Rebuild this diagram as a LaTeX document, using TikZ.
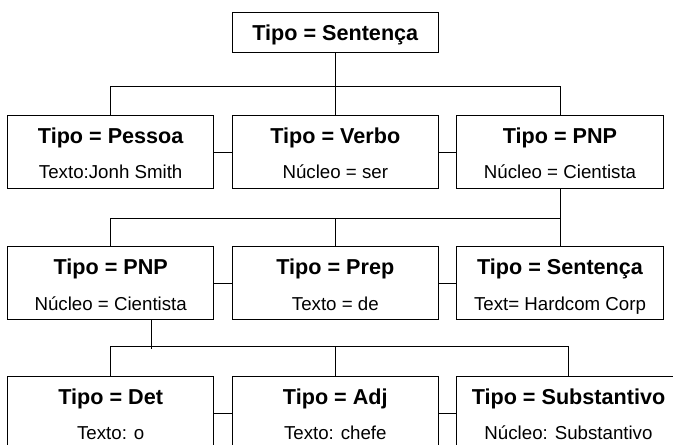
\documentclass[tikz,border=0pt]{standalone}
\usepackage{fontspec}
\setmainfont{Liberation Sans}
\usetikzlibrary{calc}
\begin{document}
\begin{tikzpicture}[x=1pt,y=-1pt,
 box/.style={draw, line width=1pt, minimum width=206.5pt, minimum height=73.5pt, inner sep=0pt},
 topbox/.style={box, minimum height=39.6pt},
 widebox/.style={box, minimum width=223.6pt},
 ttl/.style={anchor=base, inner sep=0pt, font=\fontsize{21.6}{24}\selectfont\bfseries},
 sub/.style={anchor=base, inner sep=0pt, font=\fontsize{18.7}{22}\selectfont},
 link/.style={line width=1pt}]
\useasboundingbox (0,0) rectangle (673,445);

% top
\node[topbox] (s) at (335.3,32.5) {};
\node[ttl] (st) at ($(s.center)+(0,7.8)$) {Tipo = Sentença};

% row 1
\node[box] (p1) at (110.7,152) {};
\node[box] (p2) at (335.3,152) {};
\node[box] (p3) at (560,152) {};
\node[ttl] (p1t) at ($(p1.center)+(0,-8.75)$) {Tipo = Pessoa};
\node[sub] (p1s) at ($(p1.center)+(0,26.5)$) {Texto:Jonh Smith};
\node[ttl] (p2t) at ($(p2.center)+(0,-8.75)$) {Tipo = Verbo};
\node[sub] (p2s) at ($(p2.center)+(0,26.5)$) {Núcleo = ser};
\node[ttl] (p3t) at ($(p3.center)+(0,-8.75)$) {Tipo = PNP};
\node[sub] (p3s) at ($(p3.center)+(0,26.5)$) {Núcleo = Cientista};

% row 2
\node[box] (q1) at (110.7,283) {};
\node[box] (q2) at (335.3,283) {};
\node[box] (q3) at (560,283) {};
\node[ttl] (q1t) at ($(q1.center)+(0,-9)$) {Tipo = PNP};
\node[sub] (q1s) at ($(q1.center)+(0,27)$) {Núcleo = Cientista};
\node[ttl] (q2t) at ($(q2.center)+(0,-9)$) {Tipo = Prep};
\node[sub] (q2s) at ($(q2.center)+(0,27)$) {Texto = de};
\node[ttl] (q3t) at ($(q3.center)+(0,-9)$) {Tipo = Sentença};
\node[sub] (q3s) at ($(q3.center)+(0,27)$) {Text= Hardcom Corp};

% row 3
\node[box] (r1) at (110.7,413) {};
\node[box] (r2) at (335.3,413) {};
\node[widebox] (r3) at (568.5,413) {};
\node[ttl] (r1t) at ($(r1.center)+(0,-9)$) {Tipo = Det};
\node[sub] (r1s) at ($(r1.center)+(0,26)$) {Texto: o};
\node[ttl] (r2t) at ($(r2.center)+(0,-9)$) {Tipo = Adj};
\node[sub] (r2s) at ($(r2.center)+(0,26)$) {Texto: chefe};
\node[ttl] (r3t) at ($(r3.center)+(0,-9)$) {Tipo = Substantivo};
\node[sub] (r3s) at ($(r3.center)+(0,26)$) {Núcleo: Substantivo};

% connectors level 1
\coordinate (h1) at (335.3,86.7);
\draw[link] (s.south) -- (p2.north);
\draw[link] (p1.north) |- (h1) -| (p3.north);
\draw[link] (p1.east) -- (p2.west);
\draw[link] (p2.east) -- (p3.west);

% connectors level 2
\coordinate (h2) at (335.3,218.3);
\draw[link] (p3.south) -- (q3.north);
\draw[link] (q1.north) |- (h2) -| (q3.north);
\draw[link] (q2.north) -- (h2);
\draw[link] (q1.east) -- (q2.west);
\draw[link] (q2.east) -- (q3.west);

% connectors level 3
\coordinate (qb) at ($(q1.south)+(41,0)$);
\coordinate (qe) at (151.7,349);
\coordinate (h3) at (335.3,346.7);
\draw[link] (qb) -- (qe);
\draw[link] (r1.north) |- (h3) -| (r3.north);
\draw[link] (r2.north) -- (h3);
\draw[link] (r1.east) -- (r2.west);
\draw[link] (r2.east) -- (r3.west);
\end{tikzpicture}
\end{document}
